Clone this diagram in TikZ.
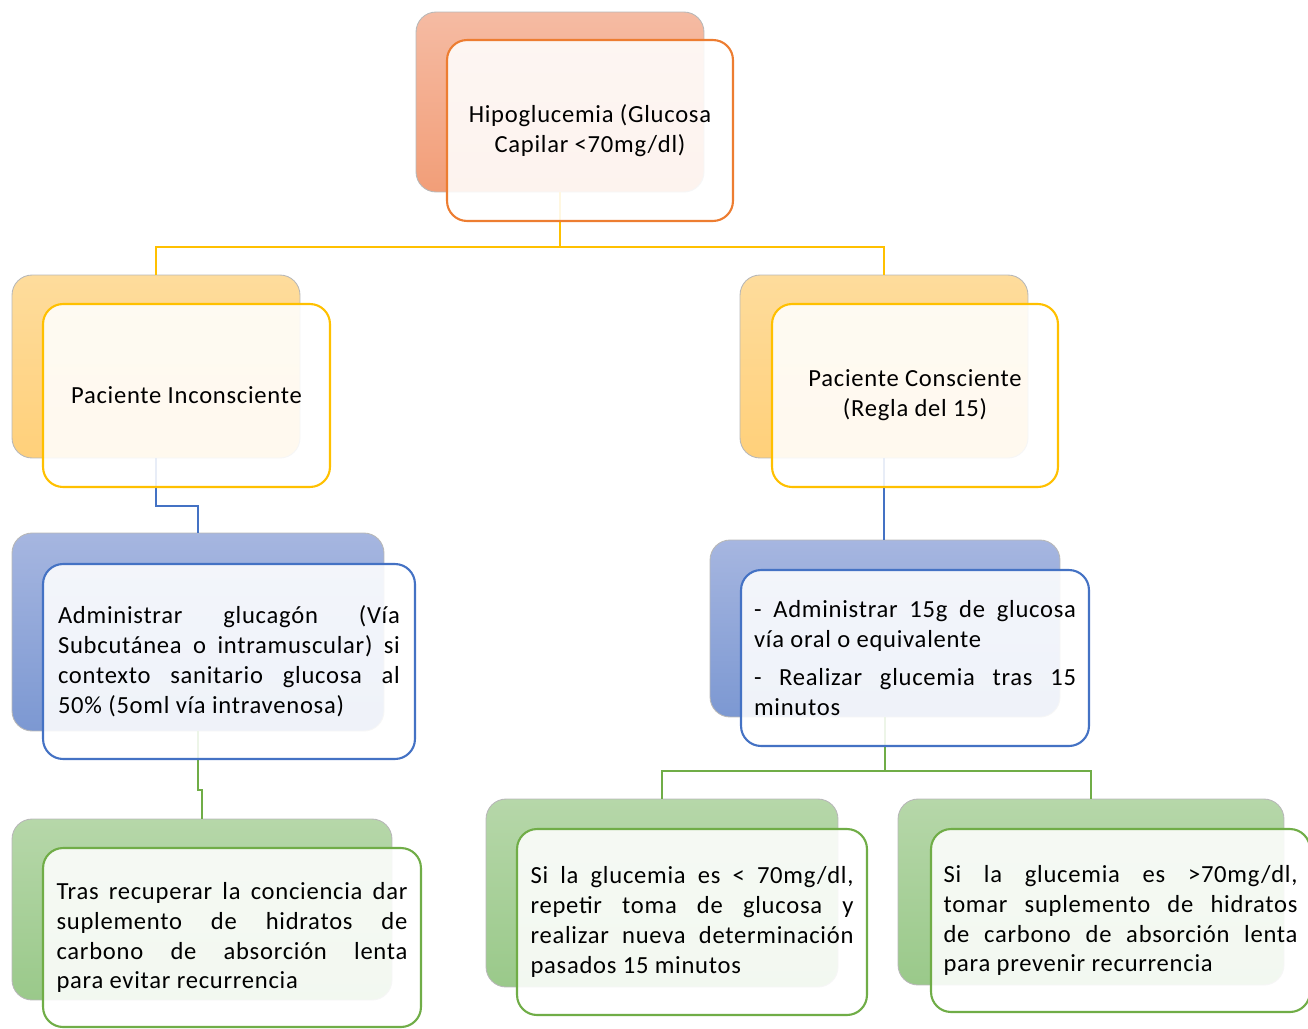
\documentclass[tikz,border=0pt]{standalone}
\usepackage{fontspec}
\setmainfont{Carlito}[LetterSpace=3]
\usetikzlibrary{positioning, calc}

\definecolor{orangeline}{HTML}{ED7D31}
\definecolor{orangetop}{HTML}{F5BBA3}
\definecolor{orangebot}{HTML}{F29E78}
\definecolor{goldline}{HTML}{FFC000}
\definecolor{goldtop}{HTML}{FEDC9C}
\definecolor{goldbot}{HTML}{FFD07A}
\definecolor{blueline}{HTML}{4472C4}
\definecolor{bluetop}{HTML}{A6B6E0}
\definecolor{bluebot}{HTML}{7C98D2}
\definecolor{greenline}{HTML}{70AD47}
\definecolor{greentop}{HTML}{B6D7A9}
\definecolor{greenbot}{HTML}{9AC98A}

\tikzset{
    backbox/.style={rectangle, rounded corners=0.4cm, draw=black!28, line width=0.5pt, inner sep=0pt},
    frontbox/.style={rectangle, rounded corners=0.4cm, line width=1.2pt, fill=white, fill opacity=0.88, text opacity=1,
        inner sep=0pt, align=justify, font=\fontsize{14}{17}\selectfont},
    link/.style={draw, line width=1.2pt},
}

\begin{document}
\begin{tikzpicture}[x=0.02cm, y=-0.02cm]
\useasboundingbox (0,0) rectangle (1308,1028);
\clip (0,0) rectangle (1308,1028);

% ===================== BACK BOXES =====================
\node[backbox, top color=orangetop, bottom color=orangebot, minimum width=5.76cm, minimum height=3.6cm] (hb) at (560,102) {};
\node[backbox, top color=goldtop, bottom color=goldbot, minimum width=5.76cm, minimum height=3.66cm] (ib) at (156,366.5) {};
\node[backbox, top color=goldtop, bottom color=goldbot, minimum width=5.76cm, minimum height=3.66cm] (cb) at (884,366.5) {};
\node[backbox, top color=bluetop, bottom color=bluebot, minimum width=7.44cm, minimum height=3.96cm] (gb) at (198,632) {};
\node[backbox, top color=bluetop, bottom color=bluebot, minimum width=7.0cm, minimum height=3.54cm] (ob) at (885,628.5) {};
\node[backbox, top color=greentop, bottom color=greenbot, minimum width=7.6cm, minimum height=3.62cm] (rb) at (202,909.5) {};
\node[backbox, top color=greentop, bottom color=greenbot, minimum width=7.04cm, minimum height=3.76cm] (sb) at (662,893) {};
\node[backbox, top color=greentop, bottom color=greenbot, minimum width=7.72cm, minimum height=3.72cm] (pb) at (1091,892) {};

% ===================== CONNECTORS =====================
\draw[link, goldline] (hb.south) -- ++(0,55) -| (ib.north);
\draw[link, goldline] (hb.south) -- ++(0,55) -| (cb.north);
\draw[link, blueline] (ib.south) -- ++(0,48) -| (gb.north);
\draw[link, blueline] (cb.south) -- (cb.south |- ob.north);
\draw[link, greenline] (gb.south) -- ++(0,59) -| (rb.north);
\draw[link, greenline] (ob.south) -- ++(0,54) -| (sb.north);
\draw[link, greenline] (ob.south) -- ++(0,54) -| (pb.north);

% ===================== FRONT BOXES =====================
\node[frontbox, draw=orangeline, align=center, minimum width=5.72cm, minimum height=3.62cm] (h) at (590,130.5)
    {Hipoglucemia (Glucosa\\Capilar <70mg/dl)};
\node[frontbox, draw=goldline, align=center, minimum width=5.74cm, minimum height=3.66cm] (i) at (186.5,395.5)
    {Paciente Inconsciente};
\node[frontbox, draw=goldline, align=center, minimum width=5.72cm, minimum height=3.66cm] (c) at (915,395.5)
    {Paciente Consciente\\(Regla del 15)};
\node[frontbox, draw=blueline, text width=6.84cm, minimum width=7.44cm, minimum height=3.9cm] (g) at (229,661.5)
    {Administrar glucagón (Vía\linebreak Subcutánea o intramuscular) si\linebreak contexto sanitario glucosa al\linebreak 50\% (5oml vía intravenosa)};
\node[frontbox, draw=blueline, text width=6.44cm, minimum width=6.96cm, minimum height=3.52cm] (o) at (915,658)
    {- Administrar 15g de glucosa\linebreak vía oral o equivalente\par\vspace{5pt}- Realizar glucemia tras 15\linebreak minutos};
\node[frontbox, draw=greenline, text width=7.02cm, minimum width=7.56cm, minimum height=3.58cm] (r) at (232,937.5)
    {Tras recuperar la conciencia dar\linebreak suplemento de hidratos de\linebreak carbono de absorción lenta\linebreak para evitar recurrencia};
\node[frontbox, draw=greenline, text width=6.46cm, minimum width=7.0cm, minimum height=3.72cm] (s) at (692,922)
    {Si la glucemia es < 70mg/dl,\linebreak repetir toma de glucosa y\linebreak realizar nueva determinación\linebreak pasados 15 minutos};
\node[frontbox, draw=greenline, text width=7.08cm, minimum width=7.58cm, minimum height=3.66cm] (p) at (1120.5,920.5)
    {Si la glucemia es >70mg/dl,\linebreak tomar suplemento de hidratos\linebreak de carbono de absorción lenta\linebreak para prevenir recurrencia};

\end{tikzpicture}
\end{document}
